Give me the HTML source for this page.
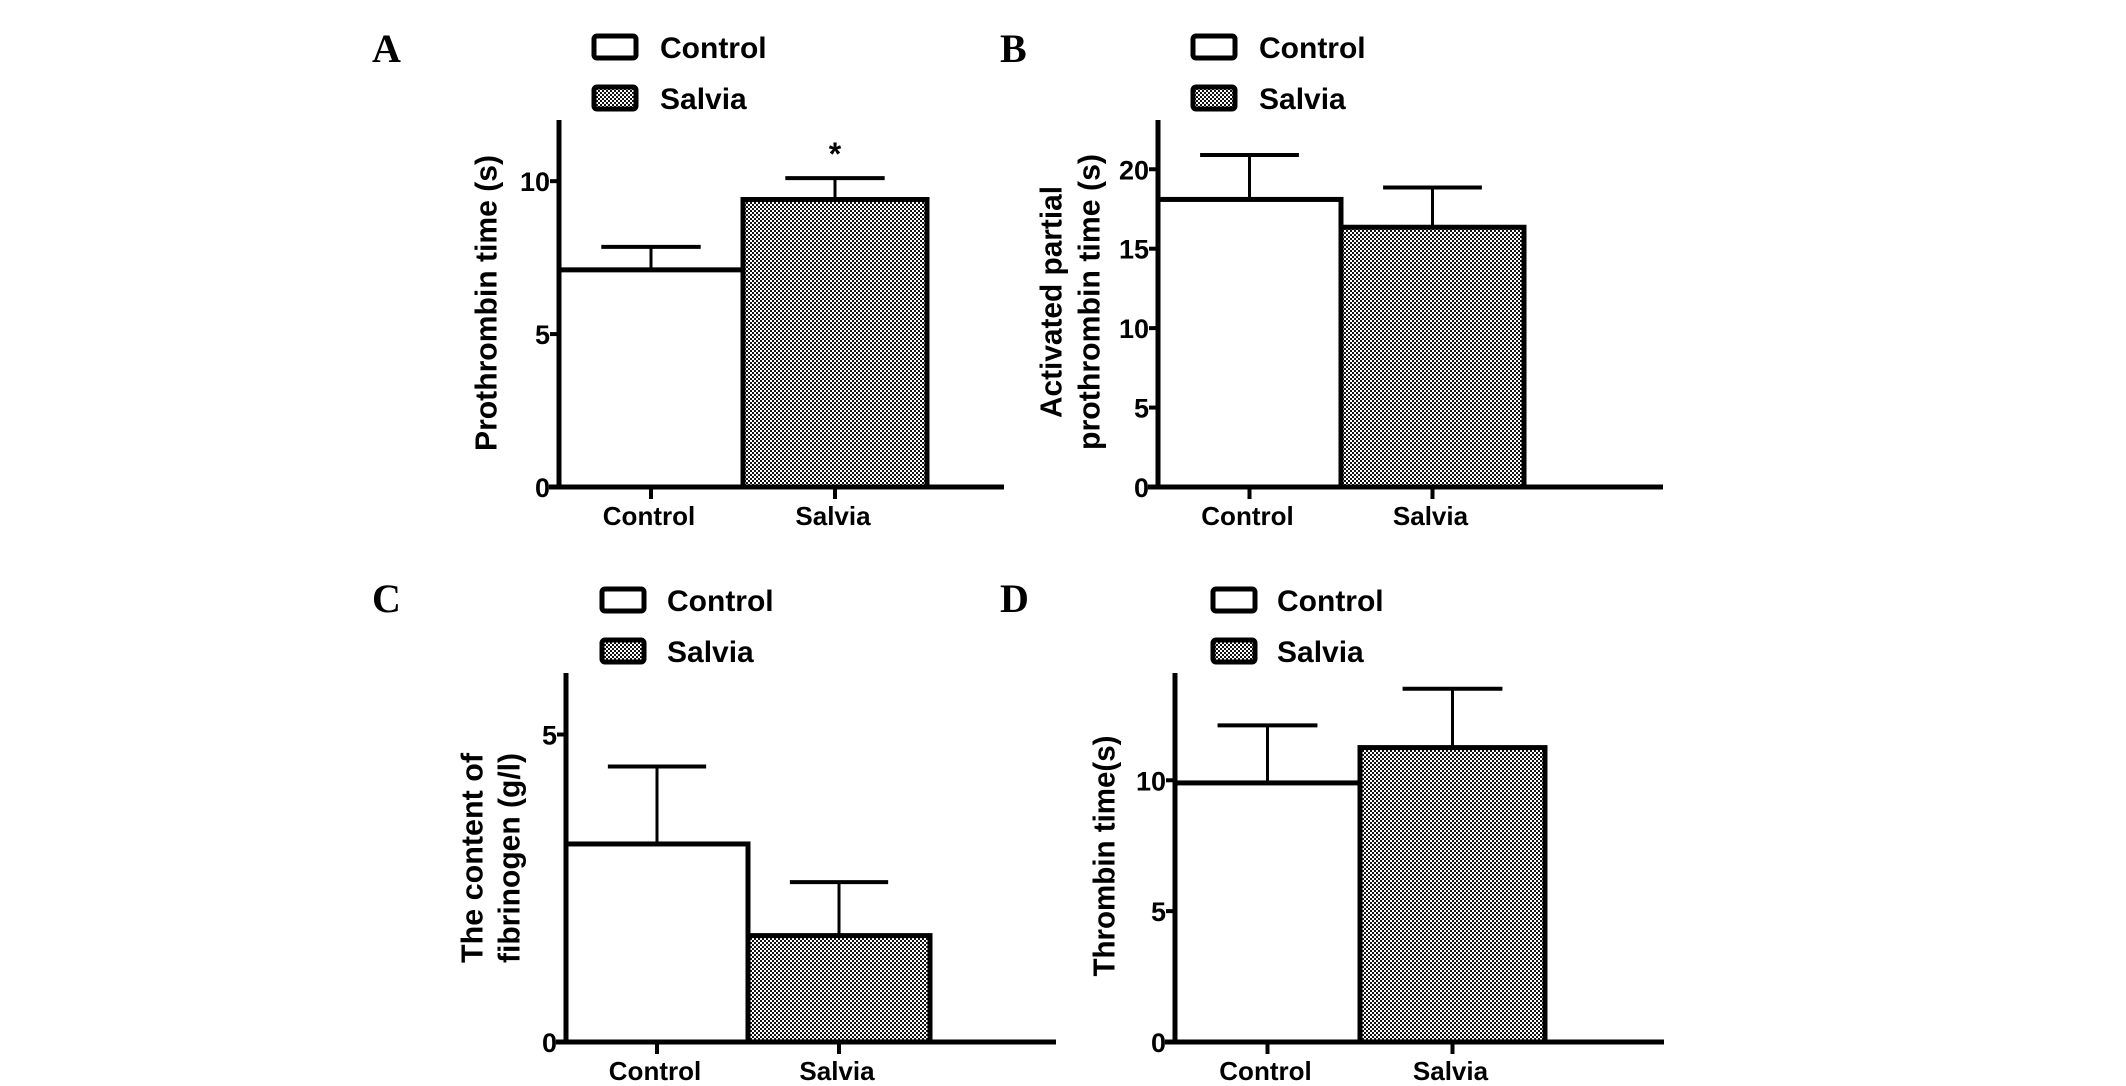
<!DOCTYPE html>
<html><head><meta charset="utf-8"><style>
html,body{margin:0;padding:0;background:#fff;}
svg{display:block;font-family:"Liberation Sans",Arial,sans-serif;font-weight:bold;}
</style></head><body>
<svg id="fig" width="2126" height="1086" viewBox="0 0 2126 1086" xmlns="http://www.w3.org/2000/svg">
<defs>
<pattern id="chk" width="4" height="4" patternUnits="userSpaceOnUse">
<rect width="4" height="4" fill="#fff"/>
<rect width="2" height="2" fill="#111"/><rect x="2" y="2" width="2" height="2" fill="#111"/>
</pattern>
</defs>
</svg>
<script>
const categories = ["Control","Salvia"];
const meansA = [7.1, 9.4];
const errA = [7.85, 10.1];
const meansB = [18.1, 16.35];
const errB = [20.9, 18.85];
const meansC = [3.22, 1.73];
const errC = [4.48, 2.6];
const meansD = [9.9, 11.25];
const errD = [12.1, 13.5];
const ticksA = [0,5,10];
const ticksB = [0,5,10,15,20];
const ticksC = [0,5];
const ticksD = [0,5,10];

const NS="http://www.w3.org/2000/svg";
const svg=document.getElementById('fig');
function mk(tag,attrs,parent){const e=document.createElementNS(NS,tag);for(const k in attrs)e.setAttribute(k,attrs[k]);(parent||svg).appendChild(e);return e;}

function panel(p){
  const g=mk('g',{});
  
  
  const y=v=>p.base-(v/p.ymax)*(p.base-p.top);
  const L=mk('text',{x:p.lx,y:p.ly,'font-family':'"Liberation Serif",serif','font-size':40,'font-weight':'bold'},g);
  L.textContent=p.id;
  
  
  const lg=mk('g',{},g);
  
  
  [0,1].forEach(i=>{
    const cy=p.legY[i];
    const r=mk('rect',{x:p.legX,y:cy-11,width:42,height:22,rx:3,fill:i?'url(#chk)':'#fff',stroke:'#000','stroke-width':5},lg);
    
    
    const t=mk('text',{x:p.legTX,y:cy+11,'font-size':30},lg);
    t.textContent=categories[i];
    
    
  });
  const bw=p.bw;
  p.means.forEach((m,i)=>{
    const x0=p.ox+i*bw;
    const cx=x0+bw/2;
    const e=mk('line',{x1:cx,x2:cx,y1:y(m),y2:y(p.err[i]),stroke:'#000','stroke-width':3},g);
    
    
    const c=mk('line',{x1:cx-bw*0.27,x2:cx+bw*0.27,y1:y(p.err[i]),y2:y(p.err[i]),stroke:'#000','stroke-width':4},g);
    
    
    const b=mk('rect',{x:x0,y:y(m),width:bw,height:p.base-y(m),fill:i?'url(#chk)':'#fff',stroke:'#000','stroke-width':5},g);
    
    
    const tk=mk('line',{x1:cx,x2:cx,y1:p.base,y2:p.base+12,stroke:'#000','stroke-width':4},g);
    
    
    const xl=mk('text',{x:cx-2,y:p.base+38,'font-size':26,'text-anchor':'middle'},g);
    xl.textContent=categories[i];
    
    
  });
  const ya=mk('line',{x1:p.ox,x2:p.ox,y1:p.top,y2:p.base+2,stroke:'#000','stroke-width':5},g);
  
  
  const xa=mk('line',{x1:p.ox-10,x2:p.xend,y1:p.base,y2:p.base,stroke:'#000','stroke-width':5},g);
  
  
  p.ticks.forEach(v=>{
    const t=mk('line',{x1:p.ox-9,x2:p.ox,y1:y(v),y2:y(v),stroke:'#000','stroke-width':4},g);
    
    
    const tl=mk('text',{x:p.ox-9,y:y(v)+10,'font-size':27,'text-anchor':'end'},g);
    tl.textContent=v;
    
    
  });
  p.titles.forEach(tt=>{
    const t=mk('text',{x:0,y:0,'font-size':31,'text-anchor':'middle',textLength:tt.len,lengthAdjust:'spacingAndGlyphs',transform:`translate(${tt.x},${p.ty}) rotate(-90)`,'dominant-baseline':'central'},g);
    t.textContent=tt.s;
    
    
  });
  if(p.star){
    const s=mk('text',{x:p.ox+bw*1.5,y:p.star,'font-size':32,'text-anchor':'middle'},g);
    s.textContent='*';
    
    
  }
}

panel({id:'A',lx:372,ly:62,legX:594,legY:[47,98],legTX:660,ox:559,base:487,top:120,ymax:12,xend:1004,bw:184,means:meansA,err:errA,ticks:ticksA,ty:303,titles:[{s:'Prothrombin time (s)',x:486,len:296}],star:165});
panel({id:'B',lx:1000,ly:62,legX:1193,legY:[47,98],legTX:1259,ox:1158,base:487,top:120,ymax:23.1,xend:1663,bw:183,means:meansB,err:errB,ticks:ticksB,ty:302,titles:[{s:'Activated partial',x:1051,len:232},{s:'prothrombin time (s)',x:1089,len:296}]});
panel({id:'C',lx:372,ly:612,legX:602,legY:[600,651],legTX:667,ox:566,base:1042,top:673,ymax:6,xend:1056,bw:182,means:meansC,err:errC,ticks:ticksC,ty:858,titles:[{s:'The content of',x:472,len:210},{s:'fibrinogen (g/l)',x:509,len:210}]});
panel({id:'D',lx:1000,ly:612,legX:1213,legY:[600,651],legTX:1277,ox:1175,base:1042,top:673,ymax:14.1,xend:1664,bw:185,means:meansD,err:errD,ticks:ticksD,ty:856,titles:[{s:'Thrombin time(s)',x:1104,len:241}]});
</script>
</body></html>
